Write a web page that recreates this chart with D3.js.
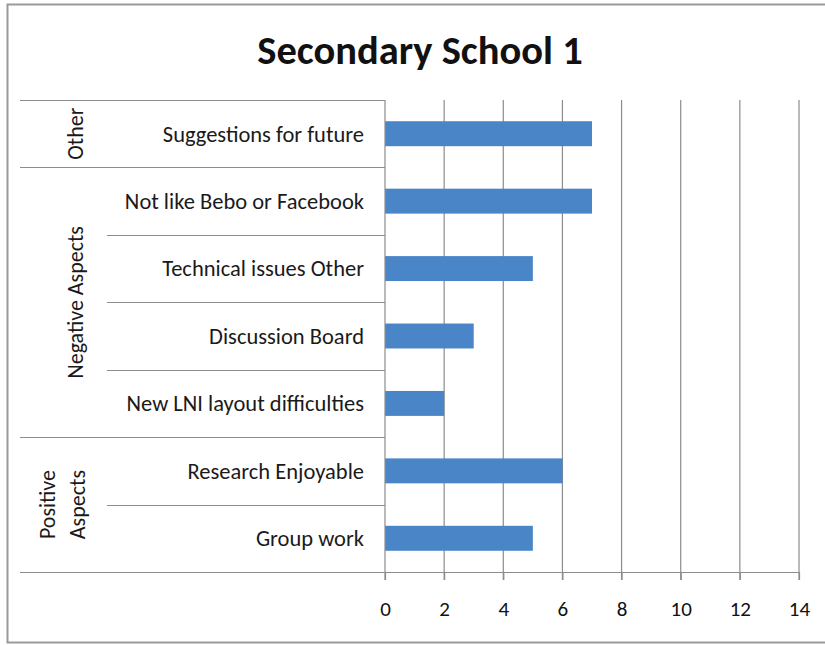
<!DOCTYPE html>
<html><head><meta charset="utf-8">
<script src="https://cdn.jsdelivr.net/npm/d3@7"></script>
<style>
html,body{margin:0;padding:0;background:#fff;}
svg{display:block;}
text{font-family:Carlito,Lato,"Open Sans",sans-serif;}
</style></head>
<body>
<svg id="chart" width="825" height="645"></svg>
<script>
const title = "Secondary School 1";
const categories = ["Suggestions for future","Not like Bebo or Facebook","Technical issues Other","Discussion Board","New LNI layout difficulties","Research Enjoyable","Group work"];
const values = [7,7,5,3,2,6,5];
const groupOf = ["Other","Negative Aspects","Negative Aspects","Negative Aspects","Negative Aspects","Positive Aspects","Positive Aspects"];
const groupLabels = {"Other":["Other"],"Negative Aspects":["Negative Aspects"],"Positive Aspects":["Positive","Aspects"]};
const tickValues = [0,2,4,6,8,10,12,14];

(function(){
const svg = d3.select("#chart");
const pLeft = 385, pRight = 799, pTop = 100, pBottom = 572, tableLeft = 20, subLeft = 107;
const txt = "#1a1a1a", grid = "#8c8c8c";

const x = d3.scaleLinear().domain([0,14]).range([pLeft,pRight]);
const y = d3.scaleBand().domain(categories).range([pTop,pBottom]).paddingInner(0.63).paddingOuter(0.315);
const step = y.step();
const gap = (step - y.bandwidth())/2;

// frame
svg.append("rect").attr("x",7.5).attr("y",4.5).attr("width",830).attr("height",638)
  .attr("fill","#fff").attr("stroke","#9a9a9a").attr("stroke-width",2);

// title
svg.append("text").attr("x",420).attr("y",64).attr("text-anchor","middle")
  .attr("font-size",40.5).attr("font-weight","bold").attr("fill","#111").text(title);

// gridlines
svg.append("g").selectAll("line").data(tickValues.slice(1)).join("line")
  .attr("x1",d=>x(d)).attr("x2",d=>x(d)).attr("y1",pTop).attr("y2",pBottom+8)
  .attr("stroke",grid).attr("stroke-width",1.2);

// row boundaries
const bounds = categories.map(c => y(c) - gap);
bounds.push(pBottom);
const lines = bounds.map((b,i)=>{
  const full = (i===0 || i===categories.length || groupOf[i]!==groupOf[i-1]);
  return {y:b, x1: full?tableLeft:subLeft};
});
svg.append("g").selectAll("line").data(lines).join("line")
  .attr("x1",d=>d.x1).attr("x2",pLeft).attr("y1",d=>Math.round(d.y)+0.5).attr("y2",d=>Math.round(d.y)+0.5)
  .attr("stroke",grid).attr("stroke-width",1.2);

// bars
svg.append("g").selectAll("rect").data(categories).join("rect")
  .attr("x",x(0)).attr("y",d=>y(d)).attr("width",(d,i)=>x(values[i])-x(0)).attr("height",y.bandwidth())
  .attr("fill","#4a85c7");

// axes
const xAxis = d3.axisBottom(x).tickValues(tickValues).tickSize(8).tickPadding(21);
const ga = svg.append("g").attr("transform",`translate(0,${pBottom})`).call(xAxis);
ga.select(".domain").remove();
ga.selectAll(".tick line").attr("stroke",grid).attr("stroke-width",1.2);
ga.selectAll(".tick text").attr("font-size",21).attr("fill","#111").attr("font-family","Carlito,Lato,'Open Sans',sans-serif");
svg.append("line").attr("x1",tableLeft).attr("x2",pRight).attr("y1",pBottom+0.5).attr("y2",pBottom+0.5)
  .attr("stroke",grid).attr("stroke-width",1.2);
svg.append("line").attr("x1",pLeft).attr("x2",pLeft).attr("y1",pTop).attr("y2",pBottom+8)
  .attr("stroke",grid).attr("stroke-width",1.2);

// category labels
svg.append("g").selectAll("text").data(categories).join("text")
  .attr("x",364).attr("y",d=>y(d)+y.bandwidth()/2).attr("dy","0.35em").attr("text-anchor","end")
  .attr("font-size",22.5).attr("fill",txt).text(d=>d);

// group labels
const groups = [...new Set(groupOf)];
groups.forEach(g=>{
  const cats = categories.filter((c,i)=>groupOf[i]===g);
  const y0 = y(cats[0]) - gap;
  const y1 = y(cats[cats.length-1]) + y.bandwidth() + gap;
  const cy = (y0+y1)/2;
  const ls = groupLabels[g];
  const lh = 30;
  ls.forEach((t,k)=>{
    const cx = (ls.length>1 ? 62 : 75) - (ls.length-1)*lh/2 + k*lh;
    svg.append("text").attr("transform",`translate(${cx},${cy}) rotate(-90)`)
      .attr("text-anchor","middle").attr("dy","0.35em").attr("font-size",22).attr("fill",txt).text(t);
  });
});
})();
</script>
</body></html>
